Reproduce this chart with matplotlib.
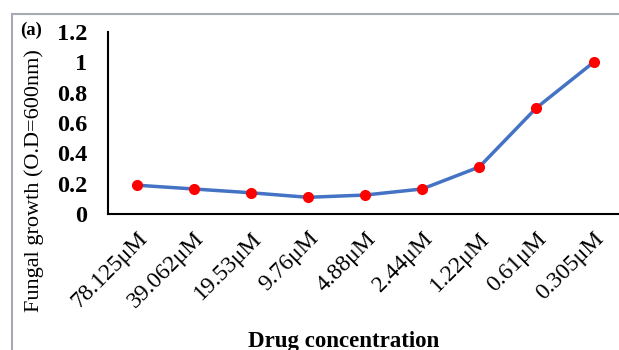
import matplotlib.pyplot as plt
from matplotlib.patches import Rectangle

concentrations = ['78.125μM', '39.062μM', '19.53μM', '9.76μM', '4.88μM',
                  '2.44μM', '1.22μM', '0.61μM', '0.305μM']
growth = [0.19, 0.165, 0.14, 0.11, 0.125, 0.165, 0.31, 0.70, 1.0]
yticks = [0, 0.2, 0.4, 0.6, 0.8, 1, 1.2]
yticklabels = ['0', '0.2', '0.4', '0.6', '0.8', '1', '1.2']

plt.rcParams['font.family'] = ['Liberation Serif', 'DejaVu Serif']

fig = plt.figure(figsize=(6.19, 3.5), dpi=100)
# grey frame around the panel
fig.patches.append(Rectangle((12 / 619, -0.05), 1.0, 1 - 14 / 350 + 0.05,
                             transform=fig.transFigure, fill=False,
                             edgecolor='#a6aab3', linewidth=1.5))

ax = fig.add_axes([108 / 619, 1 - 214 / 350, 1 - 108 / 619 + 0.005, (214 - 32) / 350])
x = range(len(concentrations))
ax.plot(x, growth, color='#4472c4', linewidth=2.5, marker='o',
        markersize=7, markerfacecolor='red', markeredgecolor='red')

ax.set_xlim(-0.5, len(concentrations) - 0.5)
ax.set_ylim(0, 1.2)
ax.set_yticks(yticks)
ax.set_yticklabels(yticklabels, fontsize=17.5, fontweight='bold')
ax.set_xticks(list(x))
ax.set_xticklabels(concentrations, fontsize=17, rotation=45,
                   ha='right', rotation_mode='anchor')
ax.tick_params(axis='x', length=0, pad=10)
ax.tick_params(axis='y', length=0, pad=15)

for s in ['top', 'right']:
    ax.spines[s].set_visible(False)
for s in ['left', 'bottom']:
    ax.spines[s].set_color('black')
    ax.spines[s].set_linewidth(1.5)

fig.text(34 / 619, 1 - 181 / 350, 'Fungal growth (O.D=600nm)', fontsize=16,
         rotation=90, ha='center', va='center')
fig.text(344 / 619, 1 - 341 / 350, 'Drug concentration', fontsize=16.5,
         fontweight='bold', ha='center', va='center')
fig.text(20 / 619, 1 - 30 / 350, '(a)', fontsize=13.5, fontweight='bold',
         ha='left', va='center')

fig.savefig('out.png', dpi=100)
